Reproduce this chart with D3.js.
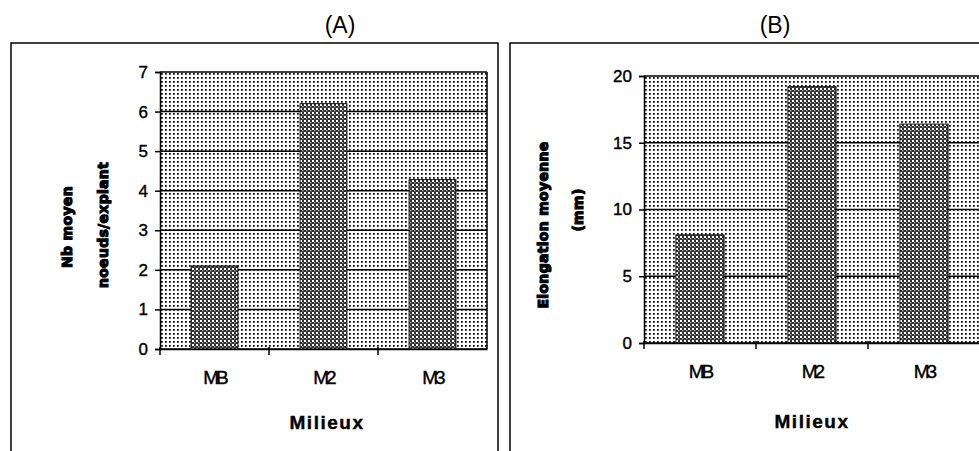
<!DOCTYPE html>
<html><head><meta charset="utf-8">
<script src="https://cdn.jsdelivr.net/npm/d3@7/dist/d3.min.js"></script>
<style>body{margin:0;background:#fff}svg{display:block}</style>
</head><body>
<svg id="c" width="979" height="451"></svg>
<script>
const categories = ["MB", "M2", "M3"];
const valuesA = [2.1, 6.2, 4.28];
const valuesB = [8.1, 19.2, 16.4];
const ticksA = [0, 1, 2, 3, 4, 5, 6, 7];
const ticksB = [0, 5, 10, 15, 20];
const titleA = "(A)";
const titleB = "(B)";
const yTitleA = ["Nb moyen", "noeuds/explant"];
const yTitleB = ["Elongation moyenne", "(mm)"];
const xTitle = "Milieux";

const svg = d3.select("#c");
const defs = svg.append("defs");
const pb = defs.append("pattern").attr("id","dots").attr("patternUnits","userSpaceOnUse").attr("width",4).attr("height",4);
pb.append("rect").attr("width",4).attr("height",4).attr("fill","#fff");
pb.append("rect").attr("x",1).attr("y",1).attr("width",1.8).attr("height",1.8).attr("fill","#111");
const pr = defs.append("pattern").attr("id","hatch").attr("patternUnits","userSpaceOnUse").attr("width",4).attr("height",4);
pr.append("rect").attr("width",4).attr("height",4).attr("fill","#303030");
pr.append("rect").attr("x",0).attr("y",0).attr("width",2).attr("height",2).attr("fill","#fff");
pr.append("rect").attr("x",2).attr("y",2).attr("width",1.5).attr("height",1.5).attr("fill","#999");

const frame = svg.append("g").attr("stroke","#000").attr("stroke-width",1.5).attr("fill","none");
frame.append("path").attr("d","M11,451V43H498V451");
frame.append("path").attr("d","M510,451V43H979");

const FONT = "Liberation Sans, Arial, sans-serif";

function panel(cfg){
  const g = svg.append("g");
  const {left,right,top,bottom,vals,ticks,max} = cfg;
  const x = d3.scaleBand().domain(categories).range([left,right]).padding(0);
  const y = d3.scaleLinear().domain([0,max]).range([bottom,top]);
  g.append("rect").attr("x",left).attr("y",top).attr("width",right-left).attr("height",bottom-top).attr("fill","url(#dots)");
  g.append("g").selectAll("line").data(ticks).join("line")
    .attr("x1",left).attr("x2",right).attr("y1",d=>y(d)).attr("y2",d=>y(d))
    .attr("stroke","#000").attr("stroke-width",1.5);
  g.append("line").attr("x1",right).attr("x2",right).attr("y1",top).attr("y2",bottom).attr("stroke","#000").attr("stroke-width",1.5);
  const bw = x.bandwidth()*0.43;
  g.append("g").selectAll("rect").data(vals).join("rect")
    .attr("x",(d,i)=>x(categories[i])+(x.bandwidth()-bw)/2)
    .attr("y",d=>y(d)).attr("width",bw).attr("height",d=>y(0)-y(d))
    .attr("fill","url(#hatch)").attr("stroke","#111").attr("stroke-width",1);
  const ya = d3.axisLeft(y).tickValues(ticks).tickSize(5).tickPadding(7).tickFormat(d3.format("d"));
  const yg = g.append("g").attr("transform",`translate(${left},0)`).call(ya);
  yg.select(".domain").attr("stroke-width",1.5);
  yg.selectAll(".tick line").attr("stroke-width",1.5);
  yg.selectAll("text").attr("font-family",FONT).attr("font-size",17).attr("fill","#000")
    .attr("stroke","#000").attr("stroke-width",0.4);
  const xa = d3.axisBottom(x).tickSize(0).tickPadding(22);
  const xg = g.append("g").attr("transform",`translate(0,${bottom})`).call(xa);
  xg.select(".domain").attr("stroke-width",1.5);
  xg.selectAll("text").attr("font-family",FONT).attr("font-size",19)
    .attr("letter-spacing","-3px").attr("fill","#000").attr("stroke","#000").attr("stroke-width",0.4);
  g.append("g").selectAll("line").data(categories).join("line")
    .attr("x1",d=>x(d)).attr("x2",d=>x(d)).attr("y1",bottom-2).attr("y2",bottom+6)
    .attr("stroke","#000").attr("stroke-width",1.5);
  g.append("text").attr("x",(left+cfg.xTitleCx)).attr("y",cfg.xTitleY).attr("text-anchor","middle")
    .attr("font-family",FONT).attr("font-weight","bold").attr("font-size",19)
    .attr("letter-spacing","1.5px").attr("stroke","#000").attr("stroke-width",0.4).text(xTitle);
  g.append("text").attr("x",cfg.titleX).attr("y",33).attr("text-anchor","middle")
    .attr("font-family",FONT).attr("font-size",23).text(cfg.title);
  cfg.yTitle.forEach((t,i)=>{
    g.append("text").attr("transform",`translate(${cfg.yTitleX[i]},${cfg.yTitleY[i]}) rotate(-90)`)
      .attr("text-anchor","middle").attr("dominant-baseline","central")
      .attr("font-family","DejaVu Sans, sans-serif").attr("font-weight","bold").attr("font-size",14)
      .attr("stroke","#000").attr("stroke-width",1.1).attr("letter-spacing","0.3px")
      .text(t);
  });
}

panel({left:160,right:487,top:72,bottom:349,vals:valuesA,ticks:ticksA,max:7,
  xTitleCx:167,xTitleY:429,title:titleA,titleX:340,yTitle:yTitleA,yTitleX:[67,103],yTitleY:[227,225]});
panel({left:644,right:980,top:76,bottom:343,vals:valuesB,ticks:ticksB,max:20,
  xTitleCx:168,xTitleY:428,title:titleB,titleX:775,yTitle:yTitleB,yTitleX:[543,578],yTitleY:[225,210]});
</script>
</body></html>
